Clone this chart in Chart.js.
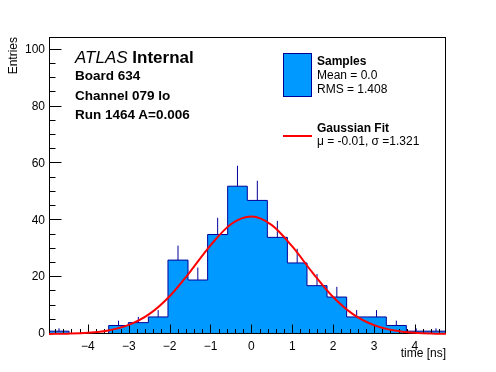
<!DOCTYPE html>
<html>
<head>
<meta charset="utf-8">
<script src="https://cdn.jsdelivr.net/npm/chart.js@4.4.0/dist/chart.umd.min.js"></script>
<style>
  body { margin: 0; background: #fff; }
  #wrap { position: relative; width: 496px; height: 372px; font-family: 'Liberation Sans', Arial, sans-serif; }
  .t { position: absolute; white-space: nowrap; line-height: 1; color: #000; }
  .b { font-weight: bold; }
</style>
</head>
<body>
<div id="wrap">
  <canvas id="histChart" width="496" height="372"></canvas>

  <div class="t" style="left:75px;top:49px;font-size:17px;"><i>ATLAS</i> <b>Internal</b></div>
  <div class="t b" style="left:75px;top:68.5px;font-size:13.5px;">Board 634</div>
  <div class="t b" style="left:75px;top:89px;font-size:13.5px;">Channel 079 lo</div>
  <div class="t b" style="left:75px;top:108px;font-size:13.5px;">Run 1464 A=0.006</div>

  <div style="position:absolute;left:283px;top:53px;width:27px;height:42px;background:rgb(0,153,255);border:1px solid rgb(0,0,153);"></div>
  <div class="t b" style="left:317px;top:55px;font-size:12px;">Samples</div>
  <div class="t" style="left:317px;top:69px;font-size:12px;">Mean = 0.0</div>
  <div class="t" style="left:317px;top:83px;font-size:12px;">RMS = 1.408</div>

  <div style="position:absolute;left:283px;top:135px;width:29px;height:2px;background:#ff0000;"></div>
  <div class="t b" style="left:317px;top:122px;font-size:12px;">Gaussian Fit</div>
  <div class="t" style="left:317px;top:134.5px;font-size:12px;">&mu; = -0.01, &sigma; =1.321</div>
</div>

<script>
// histogram
const binEdges = [-4.95, -4.46, -3.98, -3.49, -3.01, -2.52, -2.04, -1.55, -1.07, -0.58, -0.10,
                  0.39, 0.88, 1.36, 1.85, 2.33, 2.82, 3.30, 3.79, 4.27, 4.76];
const counts = [1, 0, 0, 3, 4, 6, 26, 19, 35, 52, 47, 34, 25, 17, 13, 6, 6, 3, 1, 1];
const errors = [1, 0, 0, 1.7, 2, 2.4, 5.1, 4.4, 5.9, 7.2, 6.9, 5.8, 5, 4.1, 3.6, 2.4, 2.4, 1.7, 1, 1];

// gaussian fit curve, sampled from the red line
const fitX = [-4.95, -4.5, -4, -3.5, -3, -2.5, -2, -1.5, -1, -0.5, 0, 0.5, 1, 1.5, 2, 2.5, 3, 3.5, 4, 4.5, 4.76];
const fitY = [0.04, 0.13, 0.43, 1.26, 3.19, 6.98, 13.3, 21.9, 31.2, 38.6, 41.3, 38.3, 30.8, 21.5, 13.0, 6.8, 3.1, 1.2, 0.41, 0.12, 0.06];

const xTicks = [-4, -3, -2, -1, 0, 1, 2, 3, 4];
const yTicks = [0, 20, 40, 60, 80, 100];

const fillBlue = 'rgb(0,153,255)';
const lineBlue = 'rgb(0,0,153)';

/************************************************************************************************************/

// step outline of the histogram
const histPts = [{ x: binEdges[0], y: 0 }];
for (let i = 0; i < counts.length; i++) {
  histPts.push({ x: binEdges[i], y: counts[i] });
}
histPts.push({ x: binEdges[binEdges.length - 1], y: 0 });

// upper error bars
const errPts = [];
for (let i = 0; i < counts.length; i++) {
  if (!errors[i]) continue;
  const c = (binEdges[i] + binEdges[i + 1]) / 2;
  errPts.push({ x: c, y: counts[i] }, { x: c, y: counts[i] + errors[i] }, { x: c, y: null });
}

const fitPts = fitX.map((x, i) => ({ x: x, y: fitY[i] }));

// ROOT style frame with inward ticks, drawn right after the histogram
const frameTicks = {
  id: 'frameTicks',
  afterDatasetDraw(chart, args) {
    if (args.index !== 2) return;
    const ctx = chart.ctx;
    const a = chart.chartArea;
    const xs = chart.scales.x;
    const ys = chart.scales.y;
    ctx.save();
    ctx.strokeStyle = '#000';
    ctx.lineWidth = 1;
    ctx.strokeRect(Math.round(a.left) + 0.5, Math.round(a.top) + 0.5,
                   Math.round(a.right - a.left) - 1, Math.round(a.bottom - a.top) - 1);
    const yb = Math.round(a.bottom) - 0.5;
    const xl = Math.round(a.left) + 0.5;
    ctx.beginPath();
    for (let v = Math.ceil(xs.min / 0.2) * 0.2; v <= xs.max; v += 0.2) {
      const major = Math.abs(v - Math.round(v)) < 1e-6;
      const px = Math.round(xs.getPixelForValue(v)) + 0.5;
      ctx.moveTo(px, yb);
      ctx.lineTo(px, yb - (major ? 9 : 4.5));
    }
    for (let v = 0; v <= ys.max; v += 5) {
      const major = v % 20 === 0;
      const py = Math.round(ys.getPixelForValue(v)) - 0.5;
      ctx.moveTo(xl, py);
      ctx.lineTo(xl + (major ? 12 : 6), py);
    }
    ctx.stroke();
    ctx.restore();
  }
};

const tickFont = { family: "'Liberation Sans', Arial, sans-serif", size: 12 };

new Chart(document.getElementById('histChart'), {
  type: 'line',
  data: {
    datasets: [
      {
        label: 'Gaussian Fit',
        data: fitPts,
        borderColor: '#ff0000',
        borderWidth: 2,
        pointRadius: 0,
        cubicInterpolationMode: 'monotone',
        fill: false,
        clip: 2,
        order: 0,
      },
      {
        label: 'errors',
        data: errPts,
        borderColor: lineBlue,
        borderWidth: 1,
        pointRadius: 0,
        fill: false,
        spanGaps: false,
        order: 1,
      },
      {
        label: 'Samples',
        data: histPts,
        borderColor: lineBlue,
        backgroundColor: fillBlue,
        borderWidth: 1,
        pointRadius: 0,
        stepped: 'before',
        fill: 'origin',
        order: 2,
      },
    ],
  },
  options: {
    responsive: false,
    devicePixelRatio: 1,
    animation: false,
    layout: { padding: { top: 37, right: 50, left: 0, bottom: 0 } },
    plugins: { legend: { display: false }, tooltip: { enabled: false } },
    scales: {
      x: {
        type: 'linear',
        min: binEdges[0],
        max: binEdges[binEdges.length - 1],
        grid: { display: false, drawTicks: false, tickLength: 0 },
        border: { display: false },
        afterBuildTicks: (s) => { s.ticks = xTicks.map(v => ({ value: v })); },
        afterFit: (s) => { s.height = 38; },
        ticks: {
          color: '#000',
          font: tickFont,
          padding: 5,
          maxRotation: 0,
          callback: (v) => (v < 0 ? '\u2212' + Math.abs(v) : String(v)),
        },
        title: {
          display: true,
          text: 'time [ns]',
          align: 'end',
          color: '#000',
          font: tickFont,
          padding: { top: 0, bottom: 11 },
        },
      },
      y: {
        min: 0,
        max: 104.5,
        grid: { display: false, drawTicks: false, tickLength: 0 },
        border: { display: false },
        afterBuildTicks: (s) => { s.ticks = yTicks.map(v => ({ value: v })); },
        afterFit: (s) => { s.width = 49; },
        ticks: { color: '#000', font: tickFont, padding: 4 },
        title: {
          display: true,
          text: 'Entries',
          align: 'end',
          color: '#000',
          font: tickFont,
          padding: { top: 6, bottom: 0 },
        },
      },
    },
  },
  plugins: [frameTicks],
});
</script>
</body>
</html>
